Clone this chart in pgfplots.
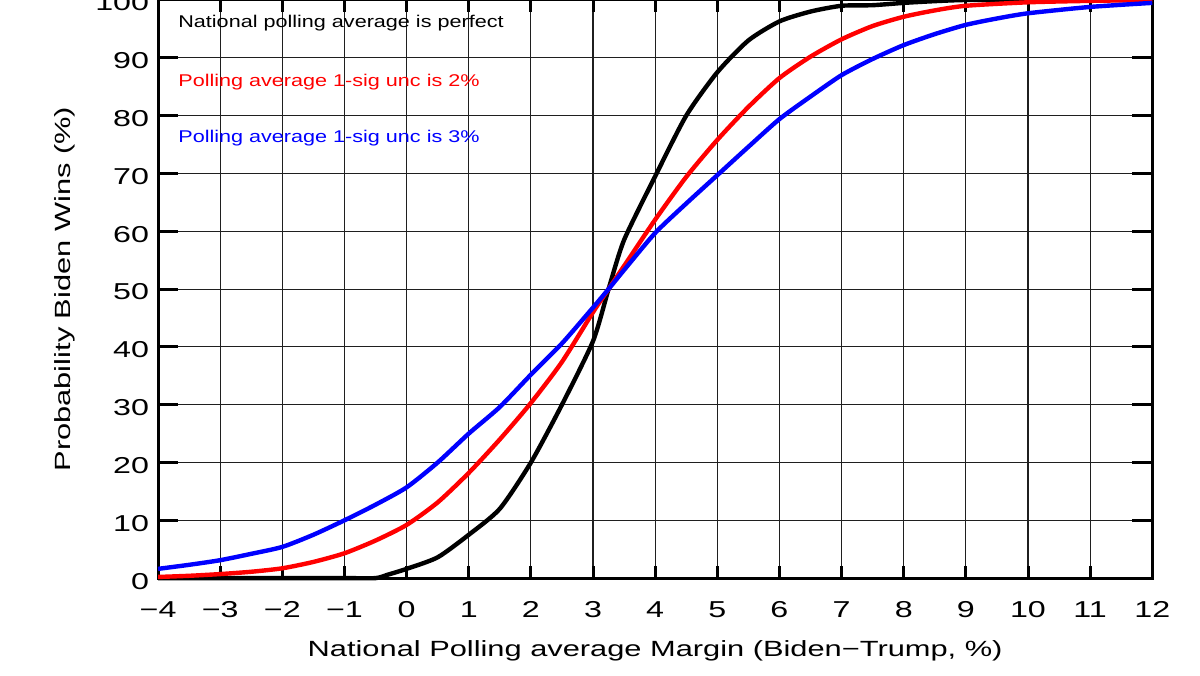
\documentclass[border=0pt]{standalone}
\usepackage{fontspec}
\setmainfont{Liberation Sans}[FakeStretch=1.4]
\newfontfamily\legfont{Liberation Sans}[FakeStretch=1.27]
\usepackage{pgfplots}
\pgfplotsset{compat=1.18}
\begin{document}
\begin{tikzpicture}
\begin{axis}[
  scale only axis,
  width=497pt, height=289pt,
  xmin=-4, xmax=12, ymin=0, ymax=100,
  xtick={-4,-3,...,12},
  xticklabels={−4,−3,−2,−1,0,1,2,3,4,5,6,7,8,9,10,11,12},
  ytick={0,10,...,100},
  yticklabels={0,10,20,30,40,50,60,70,80,90,100},
  tick align=inside,
  xtick style={line width=1.5pt, black, /pgfplots/major tick length=6pt},
  ytick style={line width=1.5pt, black, /pgfplots/major tick length=10pt},
  axis line style={line width=1.5pt},
  grid=major,
  major grid style={line width=0.55pt, black!88},
  xticklabel style={font=\fontsize{11.5pt}{13pt}\selectfont, yshift=-8pt},
  yticklabel style={font=\fontsize{11.5pt}{13pt}\selectfont, xshift=-1pt, yshift=-1.5pt},
  xlabel={National Polling average Margin (Biden−Trump, \%)},
  ylabel={Probability Biden Wins (\%)},
  xlabel style={font=\fontsize{11pt}{13pt}\selectfont, at={(axis description cs:0.5,-0.125)}, anchor=center},
  ylabel style={font=\fontsize{11pt}{13pt}\selectfont, at={(axis description cs:-0.0936,0.5)}, anchor=center},
  clip=false,
  every axis plot/.append style={line width=2.2pt, smooth, tension=0.4},
]
\addplot[black] coordinates {
(-4,0) (-3,0) (-2,0) (-1,0) (-0.5,0) (-0.3,0.6) (0,1.6) (0.5,3.6) (1,7.5) (1.5,12) (2,20) (2.5,30) (3,41) (3.25,50) (3.5,58.5) (4,69.5) (4.5,80) (5,87.5) (5.5,93) (6,96.3) (6.5,98) (7,99) (7.5,99.1) (8,99.5) (8.5,99.8) (9,100) (10,100) (11,100) (12,100)
};
\addplot[red] coordinates {
(-4,0.2) (-3.5,0.4) (-3,0.7) (-2.5,1.1) (-2,1.7) (-1.5,2.8) (-1,4.3) (-0.5,6.5) (0,9.2) (0.5,13.1) (1,18.2) (1.5,24) (2,30.3) (2.5,37.4) (3,46) (3.25,50) (3.5,54) (4,62) (4.5,69.4) (5,75.8) (5.5,81.5) (6,86.5) (6.5,90.2) (7,93.2) (7.5,95.5) (8,97.1) (8.5,98.2) (9,99) (10,99.6) (11,99.85) (12,100)
};
\addplot[blue] coordinates {
(-4,1.6) (-3.5,2.3) (-3,3.1) (-2.5,4.2) (-2,5.4) (-1.5,7.5) (-1,10) (-0.5,12.7) (0,15.7) (0.5,20) (1,25) (1.5,29.6) (2,35.2) (2.5,40.6) (3,46.8) (3.25,50) (3.5,53.3) (4,59.7) (4.5,64.8) (5,69.7) (5.5,74.6) (6,79.4) (6.5,83.3) (7,87) (7.5,89.8) (8,92.2) (8.5,94.1) (9,95.7) (9.5,96.8) (10,97.7) (11,98.8) (12,99.5)
};
\node[anchor=west, font=\legfont\fontsize{8.5pt}{10pt}\selectfont, text=black, inner sep=0pt] at (axis cs:-3.68,96) {National polling average is perfect};
\node[anchor=west, font=\legfont\fontsize{8.5pt}{10pt}\selectfont, text=red, inner sep=0pt] at (axis cs:-3.68,85.8) {Polling average 1-sig unc is 2\%};
\node[anchor=west, font=\legfont\fontsize{8.5pt}{10pt}\selectfont, text=blue, inner sep=0pt] at (axis cs:-3.68,76.1) {Polling average 1-sig unc is 3\%};
\coordinate (bbl) at (rel axis cs:-0.159,-0.168);
\coordinate (btr) at (rel axis cs:1.048,1.0);
\end{axis}
\pgfresetboundingbox
\path[use as bounding box] (bbl) rectangle (btr);
\end{tikzpicture}
\end{document}
